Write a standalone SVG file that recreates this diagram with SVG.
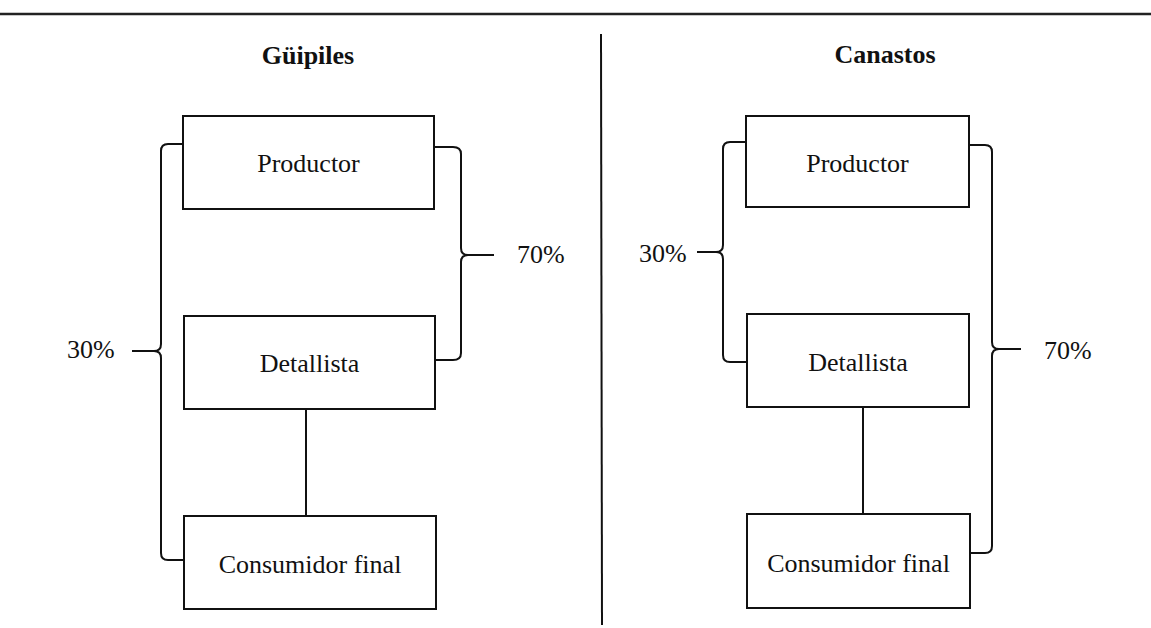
<svg xmlns="http://www.w3.org/2000/svg" width="1151" height="628" viewBox="0 0 1151 628">
<style>
.box{fill:#fff;stroke:#111;stroke-width:2}
.ln{fill:none;stroke:#111;stroke-width:2}
.t{font-family:"Liberation Serif","Times New Roman",serif;font-size:26px;fill:#111}
.c{text-anchor:middle}
.h{font-weight:bold;text-anchor:middle}
</style>
<rect width="1151" height="628" fill="#fff"/>
<line x1="0" y1="14" x2="1151" y2="14" stroke="#222" stroke-width="2.5"/>
<line x1="601" y1="34" x2="602" y2="625" stroke="#111" stroke-width="2"/>
<text class="t h" x="308" y="64">Güipiles</text>
<text class="t h" x="885" y="63">Canastos</text>
<g id="connectors">
<line class="ln" x1="306" y1="409" x2="306" y2="516"/>
<line class="ln" x1="863" y1="407" x2="863" y2="514"/>
<path class="ln" d="M183,144 L168,144 Q161,144 161,151 L161,344 Q161,351 154,351 L132,351 M154,351 Q161,351 161,358 L161,553 Q161,560 168,560 L184,560"/>
<path class="ln" d="M434,147 L453,147 Q461,147 461,154 L461,248 Q461,255 468,255 L494,255 M468,255 Q461,255 461,262 L461,353 Q461,360 453,360 L435,360"/>
<path class="ln" d="M746,142 L730,142 Q723,142 723,149 L723,245 Q723,252 716,252 L697,252 M716,252 Q723,252 723,259 L723,355 Q723,362 730,362 L747,362"/>
<path class="ln" d="M969,145 L985,145 Q992,145 992,152 L992,342 Q992,349 999,349 L1021,349 M999,349 Q992,349 992,356 L992,546 Q992,553 985,553 L970,553"/>
</g>
<g id="lbl-g30"><text class="t" x="67" y="358">30%</text></g>
<g id="lbl-g70"><text class="t" x="517" y="263">70%</text></g>
<g id="lbl-c30"><text class="t" x="639" y="262">30%</text></g>
<g id="lbl-c70"><text class="t" x="1044" y="359">70%</text></g>
<g id="g-productor"><rect class="box" x="183" y="116" width="251" height="93"/><text class="t c" x="308.5" y="172">Productor</text></g>
<g id="g-detallista"><rect class="box" x="184" y="316" width="251" height="93"/><text class="t c" x="309.5" y="372">Detallista</text></g>
<g id="g-consumidor"><rect class="box" x="184" y="516" width="252" height="93"/><text class="t c" x="310" y="573">Consumidor final</text></g>
<g id="c-productor"><rect class="box" x="746" y="116" width="223" height="91"/><text class="t c" x="857.5" y="172">Productor</text></g>
<g id="c-detallista"><rect class="box" x="747" y="314" width="222" height="93"/><text class="t c" x="858" y="371">Detallista</text></g>
<g id="c-consumidor"><rect class="box" x="747" y="514" width="223" height="94"/><text class="t c" x="858.5" y="572">Consumidor final</text></g>
</svg>
